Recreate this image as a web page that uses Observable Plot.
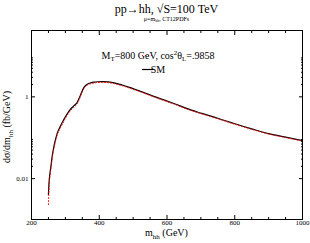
<!DOCTYPE html>
<html>
<head>
<meta charset="utf-8">
<script src="https://cdn.jsdelivr.net/npm/d3@7"></script>
<script src="https://cdn.jsdelivr.net/npm/@observablehq/plot@0.6"></script>
<style>
  html, body { margin: 0; padding: 0; background: white; }
  body { width: 310px; height: 243px; overflow: hidden; font-family: "Liberation Serif", serif; color: black; }
  #head { height: 23px; margin-left: 31px; margin-right: 8px; text-align: center; }
  #title { font-size: 12px; line-height: 13px; padding-top: 3px; }
  #sub { font-size: 6px; line-height: 7px; }
  #sub sub { font-size: 4px; vertical-align: -1px; }
  svg { display: block; }
</style>
</head>
<body>
<div id="head">
  <div id="title">pp→hh, √S=100 TeV</div>
  <div id="sub">μ=m<sub>hh</sub>, CT12PDFs</div>
</div>
<div id="chart"></div>
<script>
const mhh = [250, 252, 254, 256, 258, 261, 266, 270, 276, 286, 295, 305, 315, 325, 335, 345, 350, 355, 365, 375, 385, 395, 410, 425, 440, 455, 480, 520, 570, 620, 670, 700, 750, 800, 850, 900, 950, 1000];
const smValues = [0.0041, 0.0085, 0.0125, 0.0166, 0.022, 0.035, 0.061, 0.085, 0.13, 0.196, 0.275, 0.38, 0.50, 0.60, 0.74, 1.12, 1.42, 1.70, 2.04, 2.2, 2.29, 2.34, 2.36, 2.32, 2.22, 2.08, 1.80, 1.38, 0.97, 0.69, 0.48, 0.40, 0.30, 0.22, 0.165, 0.126, 0.104, 0.085];
const bsmValues = [0.0023, 0.0066, 0.0105, 0.0145, 0.0195, 0.031, 0.054, 0.076, 0.117, 0.178, 0.25, 0.35, 0.46, 0.555, 0.68, 1.05, 1.35, 1.62, 1.95, 2.1, 2.19, 2.24, 2.27, 2.23, 2.14, 2.0, 1.74, 1.34, 0.94, 0.67, 0.467, 0.39, 0.292, 0.214, 0.161, 0.123, 0.101, 0.083];
const xMajor = [200, 400, 600, 800, 1000];
const xMinor = [250, 300, 350, 450, 500, 550, 650, 700, 750, 850, 900, 950];
const yMajor = [0.01, 1];
const yMinor = [0.02, 0.03, 0.04, 0.05, 0.06, 0.07, 0.08, 0.09, 2, 3, 4, 5, 6, 7, 8, 9];

const data = mhh.map((m, i) => ({m, sm: smValues[i], bsm: bsmValues[i]}));
const blank = () => "";

const chart = Plot.plot({
  width: 310,
  height: 220,
  marginTop: 7,
  marginBottom: 24,
  marginLeft: 31,
  marginRight: 8,
  style: {fontFamily: "Liberation Serif, serif", fontSize: "7px", background: "white", color: "black", overflow: "visible"},
  x: {domain: [200, 1000]},
  y: {type: "log", domain: [0.001, 42]},
  marks: [
    Plot.axisX({ticks: xMajor, tickSize: -4, tickPadding: 5, label: null, tickFormat: d => String(d)}),
    Plot.axisX({ticks: xMinor, tickSize: -2, label: null, tickFormat: blank}),
    Plot.axisX({anchor: "top", ticks: xMajor, tickSize: -4, label: null, tickFormat: blank}),
    Plot.axisX({anchor: "top", ticks: xMinor, tickSize: -2, label: null, tickFormat: blank}),
    Plot.axisY({ticks: yMajor, tickSize: -4, tickPadding: 7, label: null, tickFormat: d => String(d)}),
    Plot.axisY({ticks: yMinor, tickSize: -2, label: null, tickFormat: blank}),
    Plot.axisY({anchor: "right", ticks: yMajor, tickSize: -4, label: null, tickFormat: blank}),
    Plot.axisY({anchor: "right", ticks: yMinor, tickSize: -2, label: null, tickFormat: blank}),
    Plot.frame({stroke: "black", strokeWidth: 1}),
    Plot.line(data, {x: "m", y: "sm", stroke: "black", strokeWidth: 1.2, curve: "monotone-x"}),
    Plot.line(data, {x: "m", y: "bsm", stroke: "red", strokeWidth: 1, strokeDasharray: "1,2", curve: "monotone-x"})
  ]
});
document.getElementById("chart").appendChild(chart);

const svg = d3.select(chart);
// x-axis title
const xt = svg.append("text").attr("x", 166.5).attr("y", 213).attr("text-anchor", "middle")
  .attr("font-size", "10px").attr("font-family", "Liberation Serif, serif").attr("fill", "black");
xt.append("tspan").text("m");
xt.append("tspan").attr("dy", 2.5).attr("font-size", "7px").text("hh");
xt.append("tspan").attr("dy", -2.5).text(" (GeV)");
// y-axis title
const yt = svg.append("text").attr("transform", "translate(10,104) rotate(-90)").attr("text-anchor", "middle")
  .attr("font-size", "10px").attr("font-family", "Liberation Serif, serif").attr("fill", "black");
yt.append("tspan").text("dσ/dm");
yt.append("tspan").attr("dy", 2.5).attr("font-size", "7px").text("hh");
yt.append("tspan").attr("dy", -2.5).text(" (fb/GeV)");
// legend
const lg = svg.append("g").attr("font-family", "Liberation Serif, serif").attr("font-size", "10px").attr("fill", "black");
lg.append("line").attr("x1", 142).attr("x2", 153).attr("y1", 32.5).attr("y2", 32.5)
  .attr("stroke", "red").attr("stroke-dasharray", "1,2");
lg.append("line").attr("x1", 142).attr("x2", 153).attr("y1", 46.5).attr("y2", 46.5)
  .attr("stroke", "black").attr("stroke-width", 1.2);
const l1 = lg.append("text").attr("x", 158).attr("y", 36);
l1.append("tspan").text("M");
l1.append("tspan").attr("dy", 2).attr("font-size", "7px").text("T");
l1.append("tspan").attr("dy", -2).text("=800 GeV, cos");
l1.append("tspan").attr("dy", -4).attr("font-size", "7px").text("2");
l1.append("tspan").attr("dy", 4).text("θ");
l1.append("tspan").attr("dy", 2).attr("font-size", "7px").text("L");
l1.append("tspan").attr("dy", -2).text("=.9858");
lg.append("text").attr("x", 158).attr("y", 50).text("SM");
</script>
</body>
</html>
